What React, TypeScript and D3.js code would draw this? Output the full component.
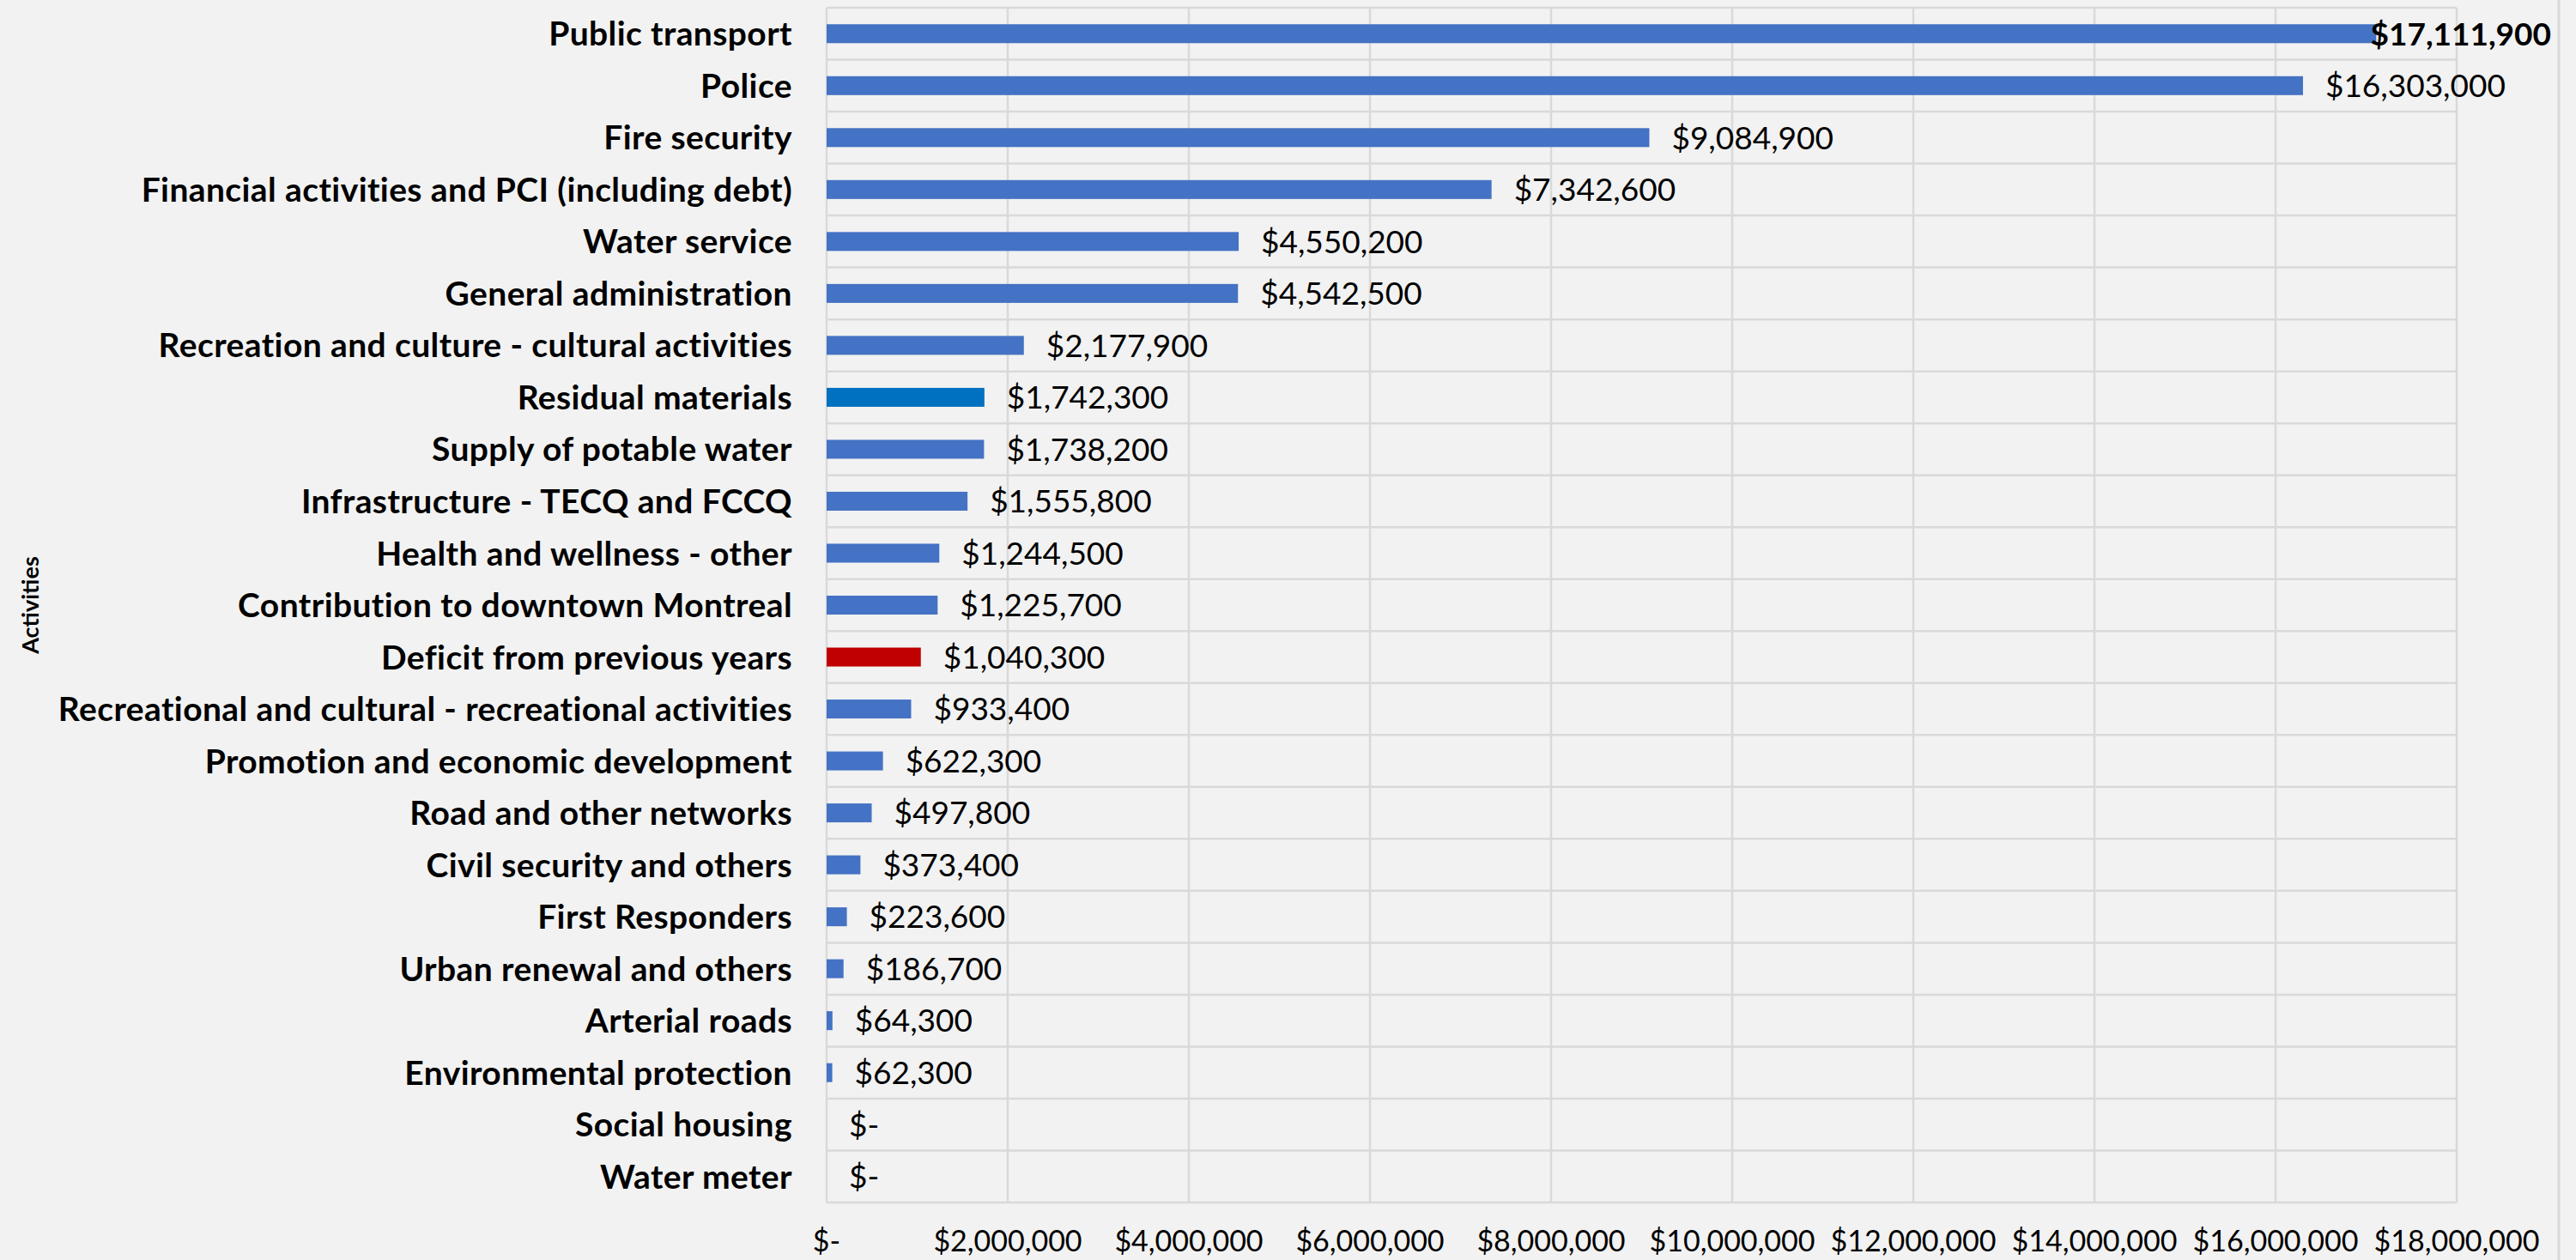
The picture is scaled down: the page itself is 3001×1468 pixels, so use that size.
import React, { useEffect, useRef } from "react";
import * as d3 from "d3";

const categories: string[] = [
  "Public transport",
  "Police",
  "Fire security",
  "Financial activities and PCI (including debt)",
  "Water service",
  "General administration",
  "Recreation and culture - cultural activities",
  "Residual materials",
  "Supply of potable water",
  "Infrastructure - TECQ and FCCQ",
  "Health and wellness - other",
  "Contribution to downtown Montreal",
  "Deficit from previous years",
  "Recreational and cultural - recreational activities",
  "Promotion and economic development",
  "Road and other networks",
  "Civil security and others",
  "First Responders",
  "Urban renewal and others",
  "Arterial roads",
  "Environmental protection",
  "Social housing",
  "Water meter",
];

const values: number[] = [
  17111900, 16303000, 9084900, 7342600, 4550200, 4542500, 2177900, 1742300,
  1738200, 1555800, 1244500, 1225700, 1040300, 933400, 622300, 497800, 373400,
  223600, 186700, 64300, 62300, 0, 0,
];

const xTicks: number[] = [0, 2000000, 4000000, 6000000, 8000000, 10000000, 12000000, 14000000, 16000000, 18000000];

const highlightColors: Record<string, string> = {
  "Residual materials": "#0070C0",
  "Deficit from previous years": "#C00000",
};

const W = 3001;
const H = 1468;
const M = { left: 963, right: 2862, top: 9, bottom: 1401 };
const FONT = "Lato, 'Open Sans', sans-serif";

const money = (v: number) => (v === 0 ? "$-" : "$" + d3.format(",")(v));

export default function App() {
  const ref = useRef<SVGSVGElement | null>(null);

  useEffect(() => {
    const svg = d3.select(ref.current);
    svg.selectAll("*").remove();

    const x = d3.scaleLinear().domain([0, 18000000]).range([M.left, M.right]);
    const y = d3
      .scaleBand<string>()
      .domain(categories)
      .range([M.top, M.bottom])
      .paddingInner(0.636)
      .paddingOuter(0.318);
    const step = y.step();

    svg.append("rect").attr("width", W).attr("height", H).attr("fill", "#F2F2F2");

    // outer chart border (right)
    svg
      .append("line")
      .attr("x1", 2981)
      .attr("x2", 2981)
      .attr("y1", 0)
      .attr("y2", H)
      .attr("stroke", "#D9D9D9")
      .attr("stroke-width", 3);

    const grid = svg.append("g");
    grid
      .selectAll("line.v")
      .data(xTicks)
      .join("line")
      .attr("x1", (d) => x(d))
      .attr("x2", (d) => x(d))
      .attr("y1", M.top)
      .attr("y2", M.bottom)
      .attr("stroke", "#D9D9D9")
      .attr("stroke-width", 2.5);
    const bounds = d3.range(categories.length + 1);
    grid
      .selectAll("line.h")
      .data(bounds)
      .join("line")
      .attr("x1", M.left)
      .attr("x2", M.right)
      .attr("y1", (i) => M.top + i * step)
      .attr("y2", (i) => M.top + i * step)
      .attr("stroke", "#D9D9D9")
      .attr("stroke-width", 2.5);

    svg
      .append("g")
      .selectAll("rect")
      .data(categories)
      .join("rect")
      .attr("x", x(0))
      .attr("y", (d) => y(d)!)
      .attr("height", y.bandwidth())
      .attr("width", (d, i) => x(values[i]) - x(0))
      .attr("fill", (d) => highlightColors[d] || "#4472C4");

    svg
      .append("g")
      .selectAll("text")
      .data(categories)
      .join("text")
      .attr("x", M.left - 40)
      .attr("y", (d) => y(d)! + y.bandwidth() / 2)
      .attr("dy", "0.36em")
      .attr("text-anchor", "end")
      .attr("font-family", FONT)
      .attr("font-weight", "bold")
      .attr("font-size", 39)
      .attr("letter-spacing", 0.4)
      .attr("fill", "#000")
      .text((d) => d);

    const maxV = d3.max(values)!;
    const limit = 2972;
    const vl = svg
      .append("g")
      .selectAll("text")
      .data(categories)
      .join("text")
      .attr("x", (d, i) => x(values[i]) + 26)
      .attr("y", (d) => y(d)! + y.bandwidth() / 2)
      .attr("dy", "0.36em")
      .attr("font-family", FONT)
      .attr("font-size", 37)
      .attr("font-weight", (d, i) => (values[i] === maxV ? "bold" : "normal"))
      .attr("fill", "#000")
      .text((d, i) => money(values[i]));
    vl.each(function () {
      const el = this as SVGTextElement;
      const w = el.getComputedTextLength();
      const x0 = parseFloat(el.getAttribute("x") || "0");
      if (x0 + w > limit) {
        el.setAttribute("x", String(limit));
        el.setAttribute("text-anchor", "end");
      }
    });

    svg
      .append("g")
      .selectAll("text")
      .data(xTicks)
      .join("text")
      .attr("x", (d) => x(d))
      .attr("y", 1458)
      .attr("text-anchor", "middle")
      .attr("font-family", FONT)
      .attr("font-size", 34)
      .attr("fill", "#000")
      .text((d) => money(d));

    svg
      .append("text")
      .attr("transform", `translate(45, ${(M.top + M.bottom) / 2}) rotate(-90)`)
      .attr("text-anchor", "middle")
      .attr("font-family", FONT)
      .attr("font-weight", "bold")
      .attr("font-size", 27)
      .attr("fill", "#000")
      .text("Activities");
  }, []);

  return (
    <svg
      ref={ref}
      width={W}
      height={H}
      style={{ position: "absolute", left: 0, top: 0, display: "block" }}
    />
  );
}
